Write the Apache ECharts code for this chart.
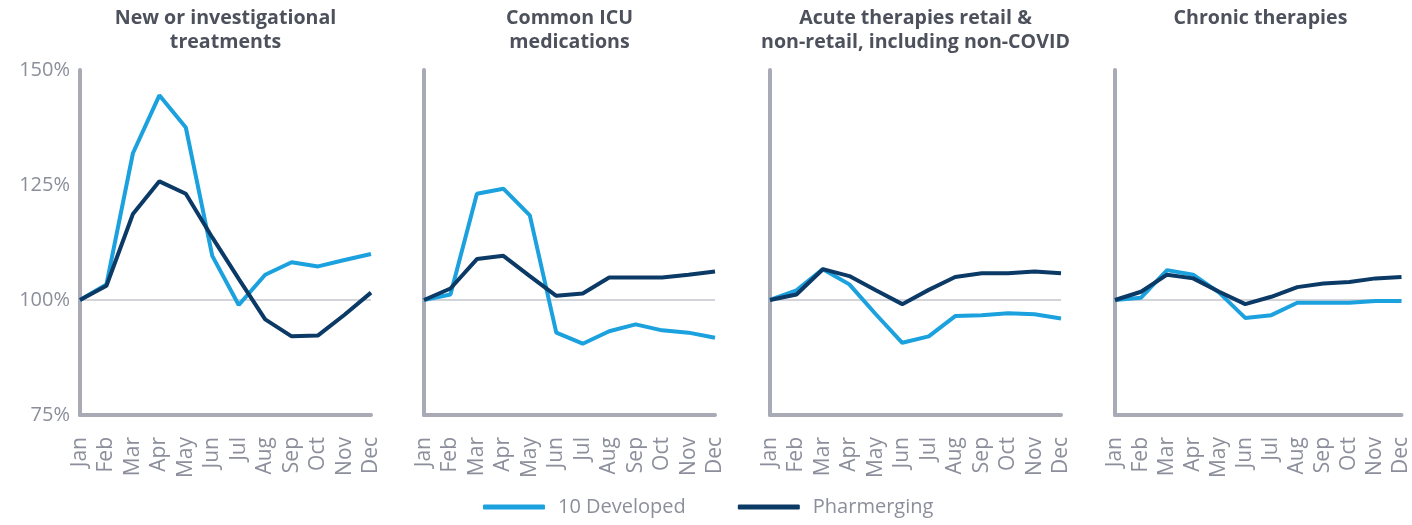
<!DOCTYPE html>
<html>
<head>
<meta charset="utf-8">
<script src="https://cdn.jsdelivr.net/npm/echarts@6/dist/echarts.min.js"></script>
<style>
  html, body { margin: 0; padding: 0; background: #fff; }
  #chart { width: 1412px; height: 525px; }
</style>
</head>
<body>
<div id="chart"></div>
<script>
// month categories shared by all panels
const months = ['Jan', 'Feb', 'Mar', 'Apr', 'May', 'Jun', 'Jul', 'Aug', 'Sep', 'Oct', 'Nov', 'Dec'];
const yTicks = [75, 100, 125, 150];

const panelTitles = [
    'New or investigational\ntreatments',
    'Common ICU\nmedications',
    'Acute therapies retail &\nnon-retail, including non-COVID',
    'Chronic therapies'
];

// 10 Developed markets (index, Jan = 100)
const developedNew = [100, 103.4, 131.9, 144.5, 137.5, 109.6, 98.9, 105.5, 108.2, 107.3, 108.7, 110];
const developedIcu = [100, 101.2, 123.1, 124.2, 118.4, 92.9, 90.5, 93.2, 94.7, 93.4, 92.9, 91.8];
const developedAcute = [100, 102.1, 106.7, 103.4, 96.9, 90.7, 92.1, 96.5, 96.7, 97.1, 96.9, 96];
const developedChronic = [100, 100.5, 106.5, 105.5, 101.6, 96.1, 96.7, 99.4, 99.4, 99.4, 99.8, 99.8];

// Pharmerging markets
const pharmNew = [100, 103.1, 118.7, 125.8, 123.1, 113.6, 104.6, 95.8, 92.1, 92.3, 96.8, 101.6];
const pharmIcu = [100, 102.5, 108.9, 109.6, 105.2, 100.9, 101.4, 104.9, 104.9, 104.9, 105.5, 106.2];
const pharmAcute = [100, 101.2, 106.7, 105.2, 102.1, 99.1, 102.2, 105, 105.8, 105.8, 106.2, 105.8];
const pharmChronic = [100, 101.8, 105.5, 104.7, 101.8, 99.1, 100.7, 102.8, 103.6, 103.9, 104.7, 105];

const developedSets = [developedNew, developedIcu, developedAcute, developedChronic];
const pharmSets = [pharmNew, pharmIcu, pharmAcute, pharmChronic];

const lightBlue = '#1ba1de';
const navy = '#0c3a66';
const axisGray = '#a8aab5';
const labelGray = '#8c8f9b';
const titleGray = '#4d515c';
const fontFamily = '"Open Sans", "Noto Sans", sans-serif';

const gridLefts = [80, 424, 770, 1115];
const gridWidth = 291;

const chart = echarts.init(document.getElementById('chart'));

const grids = [], xAxes = [], yAxes = [], titles = [], series = [];

gridLefts.forEach((left, i) => {
    grids.push({ left: left, top: 70, width: gridWidth, height: 345 });
    titles.push({
        text: panelTitles[i],
        left: left + gridWidth / 2,
        top: 6,
        padding: 0,
        textAlign: 'center',
        textStyle: { color: titleGray, fontSize: 19.6, fontWeight: 'bold', fontFamily: fontFamily, lineHeight: 24 }
    });
    xAxes.push({
        type: 'category',
        gridIndex: i,
        data: months,
        boundaryGap: false,
        axisLine: { lineStyle: { color: axisGray, width: 4, cap: 'round' } },
        axisTick: { show: false },
        axisLabel: { rotate: 90, interval: 0, margin: 22, color: labelGray, fontSize: 21, fontFamily: fontFamily }
    });
    yAxes.push({
        type: 'value',
        gridIndex: i,
        min: yTicks[0],
        max: yTicks[yTicks.length - 1],
        interval: 25,
        axisLine: { show: true, lineStyle: { color: axisGray, width: 4, cap: 'round' } },
        axisTick: { show: false },
        splitLine: { show: false },
        axisLabel: {
            show: i === 0,
            margin: 10,
            color: labelGray,
            fontSize: 20,
            fontFamily: fontFamily,
            formatter: v => v + '%'
        }
    });
    series.push({
        name: '10 Developed',
        type: 'line',
        xAxisIndex: i,
        yAxisIndex: i,
        data: developedSets[i],
        showSymbol: false,
        lineStyle: { color: lightBlue, width: 4 },
        itemStyle: { color: lightBlue },
        z: 3,
        markLine: {
            silent: true,
            symbol: 'none',
            label: { show: false },
            lineStyle: { color: '#d3d4da', width: 2, type: 'solid' },
            data: [{ yAxis: 100 }],
            z: 1
        }
    });
    series.push({
        name: 'Pharmerging',
        type: 'line',
        xAxisIndex: i,
        yAxisIndex: i,
        data: pharmSets[i],
        showSymbol: false,
        lineStyle: { color: navy, width: 4 },
        itemStyle: { color: navy },
        z: 4
    });
});

chart.setOption({
    animation: false,
    title: titles,
    grid: grids,
    xAxis: xAxes,
    yAxis: yAxes,
    legend: {
        data: ['10 Developed', 'Pharmerging'],
        top: 492,
        left: 478,
        icon: 'roundRect',
        itemWidth: 62,
        itemHeight: 5,
        itemGap: 52,
        textStyle: { color: labelGray, fontSize: 20, fontFamily: fontFamily, padding: [0, 0, 0, 8] }
    },
    series: series
});
</script>
</body>
</html>
